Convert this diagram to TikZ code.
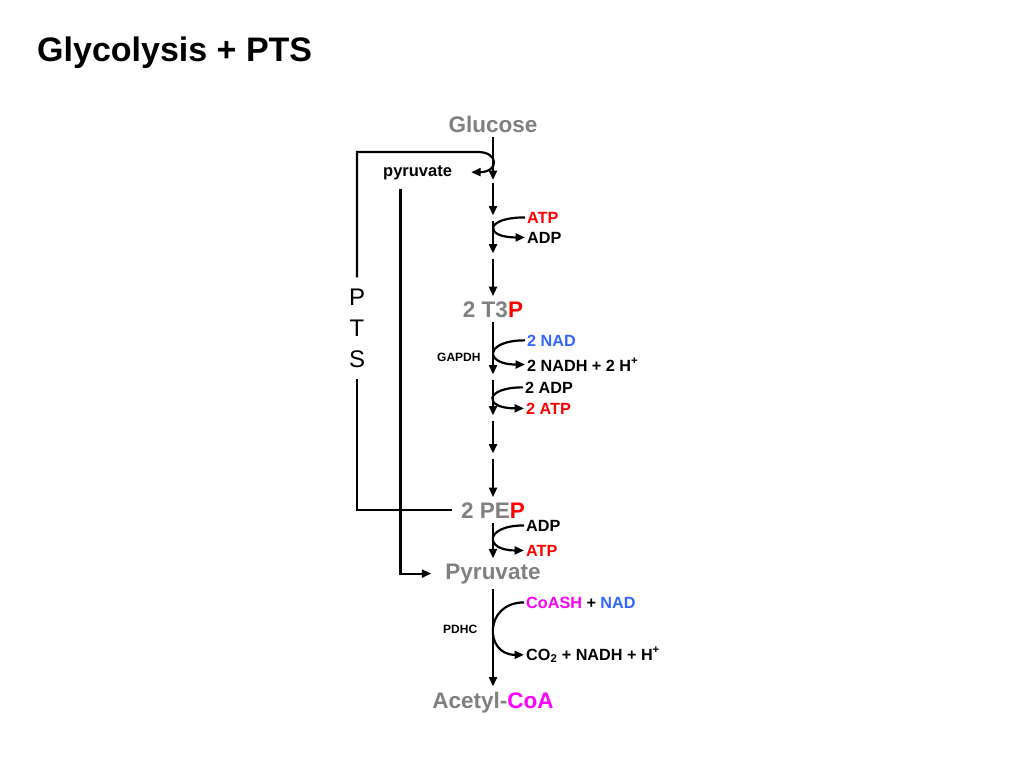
\documentclass[tikz,border=0pt]{standalone}
\usepackage{fontspec}
\setmainfont{Liberation Sans}
\usepackage{xcolor}
\usepackage{tikz}
\usetikzlibrary{arrows.meta,positioning}
\definecolor{metabgrey}{RGB}{128,128,128}
\definecolor{energyred}{RGB}{255,0,0}
\definecolor{redoxblue}{RGB}{51,102,255}
\definecolor{coamagenta}{RGB}{255,0,255}
\tikzset{
  metab/.style={font=\fontsize{22.5}{27}\selectfont\bfseries,text=metabgrey,
    inner sep=5pt,anchor=base},
  cofactor/.style={font=\fontsize{16.2}{19}\selectfont\bfseries,
    inner sep=2pt,anchor=base west},
  enzyme/.style={font=\fontsize{12}{14}\selectfont\bfseries,
    inner sep=0pt,anchor=base west},
  flow/.style={-{Triangle[length=9.5pt,width=8pt]},line width=2.2pt},
  split/.style={shorten <=2.5pt,shorten >=2.5pt},
  ptsline/.style={line width=2.2pt}
}

\begin{document}
\begin{tikzpicture}[x=1pt,y=-1pt]
  \useasboundingbox (0,0) rectangle (1024,768);
  \node[font=\fontsize{34}{40}\selectfont\bfseries,inner sep=0pt,anchor=base west]
    (title) at (37,62) {Glycolysis + PTS};
  % main pathway
  \node[metab] (glucose) at (493,132) {Glucose};
  \node[metab,below=185pt of glucose.base,anchor=base] (t3p)
    {2 T3\textcolor{energyred}{P}};
  \node[metab,below=201pt of t3p.base,anchor=base] (pep)
    {2 PE\textcolor{energyred}{P}};
  \node[metab,below=61pt of pep.base,anchor=base] (pyruvate) {Pyruvate};
  \node[metab,below=129pt of pyruvate.base,anchor=base] (acetylcoa)
    {Acetyl-\textcolor{coamagenta}{CoA}};
  \coordinate (k1) at (493,180);
  \coordinate (k2) at (493,218);
  \coordinate (k3) at (493,256);
  \coordinate (k4) at (493,377);
  \coordinate (k5) at (493,418);
  \coordinate (k6) at (493,456);
  % cofactors
  \node[cofactor,text=energyred] (atp1) at (525,223) {ATP};
  \node[cofactor] (adp1) at (525,243) {ADP};
  \node[cofactor,text=redoxblue] (nad1) at (525,346) {2 NAD};
  \node[cofactor] (nadh1) at (525,371) {2 NADH + 2 H\textsuperscript{+}};
  \node[cofactor] (adp2) at (523,393) {2 ADP};
  \node[cofactor,text=energyred] (atp2) at (524,414) {2 ATP};
  \node[cofactor] (adp3) at (524,531) {ADP};
  \node[cofactor,text=energyred] (atp3) at (524,556) {ATP};
  \node[cofactor] (coash) at (524,608)
    {\textcolor{coamagenta}{CoASH} + \textcolor{redoxblue}{NAD}};
  \node[cofactor] (co2) at (524,660) {CO\textsubscript{2} + NADH + H\textsuperscript{+}};
  \node[enzyme] (gapdh) at (437,361) {GAPDH};
  \node[enzyme] (pdhc) at (443,633) {PDHC};
  % PTS
  \node[font=\fontsize{24}{31}\selectfont,align=center,inner xsep=2pt,inner ysep=11pt]
    (pts) at (357,328) {P\\T\\S};
  \node[cofactor,font=\fontsize{16.5}{20}\selectfont\bfseries] (pyrsmall) at (381,176)
    {pyruvate};
  \coordinate (ptstop) at (478,152);
  \draw[flow] (glucose) -- (k1);
  \draw[flow,split] (k1) -- (k2);
  \draw[flow,split] (k2) -- (k3);
  \draw[flow,shorten <=2.5pt] (k3) -- (t3p);
  \draw[flow,shorten >=2.5pt] (t3p) -- (k4);
  \draw[flow,split] (k4) -- (k5);
  \draw[flow,split] (k5) -- (k6);
  \draw[flow,shorten <=2.5pt] (k6) -- (pep);
  \draw[flow] (pep) -- (pyruvate);
  \draw[flow] (pyruvate) -- (acetylcoa);
  \draw[flow] (atp1.west) .. controls +(-41,0) and +(-41,0) .. (adp1.west);
  \draw[flow] (nad1.west) .. controls +(-41,0) and +(-41,0) .. (nadh1.west);
  \draw[flow] (adp2.west) .. controls +(-39,0) and +(-41,0) .. (atp2.west);
  \draw[flow] (adp3.west) .. controls +(-40,0) and +(-40,0) .. (atp3.west);
  \draw[flow] (coash.west) .. controls +(-40,0) and +(-40,0) .. (co2.west);
  \draw[flow,shorten >=17pt] (pts.north) |- (ptstop)
    .. controls (499,152) and (499,172) .. (pyrsmall.east);
  \draw[ptsline,shorten <=4pt] (pep.west) -| (pts.south);
  \draw[flow,shorten >=9pt] ([xshift=-17pt,yshift=-7pt]pyrsmall.south) |- (pyruvate.west);
\end{tikzpicture}
\end{document}
